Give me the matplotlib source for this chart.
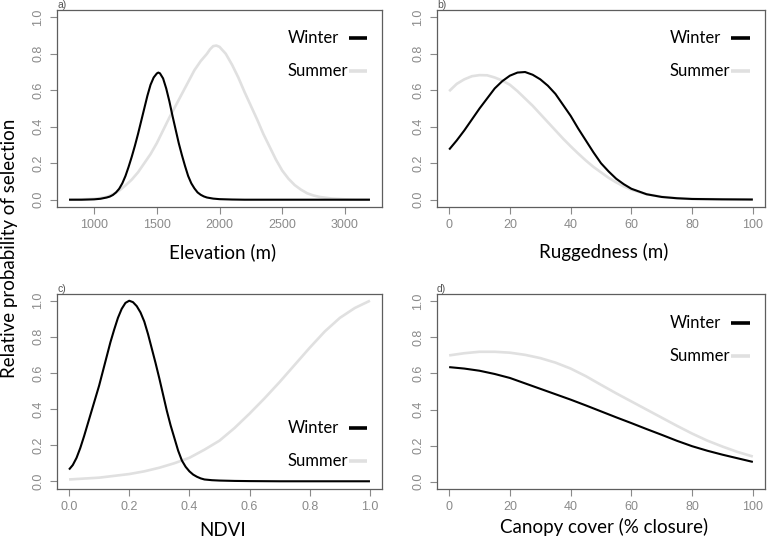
import matplotlib
matplotlib.use("Agg")
import matplotlib.pyplot as plt

# ---------------- data ----------------
elev_x = [800, 900, 1000, 1050, 1100, 1125, 1150, 1175, 1200, 1225, 1250, 1275, 1300, 1325, 1350,
          1375, 1400, 1425, 1450, 1475, 1500, 1512, 1525, 1550, 1575, 1600, 1625, 1650, 1675, 1700,
          1725, 1750, 1775, 1800, 1825, 1850, 1875, 1900, 1950, 2000, 2100, 2200, 2500, 2800, 3200]
elev_winter = [0.0, 0.0, 0.002, 0.005, 0.012, 0.017, 0.026, 0.04, 0.06, 0.09, 0.13, 0.18, 0.235,
               0.295, 0.36, 0.43, 0.50, 0.57, 0.63, 0.67, 0.692, 0.697, 0.693, 0.665, 0.61, 0.54,
               0.46, 0.385, 0.31, 0.245, 0.185, 0.13, 0.09, 0.062, 0.04, 0.027, 0.018, 0.012,
               0.006, 0.003, 0.001, 0.0, 0.0, 0.0, 0.0]
elev_x_s = [800, 900, 1000, 1050, 1100, 1150, 1200, 1250, 1300, 1350, 1400, 1450, 1500, 1550,
            1600, 1650, 1700, 1750, 1800, 1850, 1900, 1925, 1950, 1975, 2000, 2050, 2100, 2150,
            2200, 2250, 2300, 2350, 2400, 2450, 2500, 2550, 2600, 2650, 2700, 2750, 2800, 2900,
            3000, 3100, 3200]
elev_summer = [0.0, 0.002, 0.005, 0.009, 0.015, 0.03, 0.05, 0.078, 0.11, 0.15, 0.20, 0.25, 0.31,
               0.38, 0.45, 0.515, 0.58, 0.645, 0.71, 0.76, 0.80, 0.825, 0.842, 0.845, 0.838, 0.80,
               0.74, 0.67, 0.59, 0.515, 0.44, 0.36, 0.29, 0.22, 0.16, 0.115, 0.08, 0.055, 0.035,
               0.023, 0.015, 0.006, 0.002, 0.0, 0.0]

rug_x = [0, 2.5, 5, 7.5, 10, 12.5, 15, 17.5, 20, 22.5, 25, 27.5, 30, 32.5, 35, 37.5, 40, 42.5, 45,
         47.5, 50, 52.5, 55, 57.5, 60, 65, 70, 75, 80, 90, 100]
rug_winter = [0.275, 0.325, 0.38, 0.44, 0.50, 0.555, 0.61, 0.65, 0.68, 0.697, 0.70, 0.685, 0.66,
              0.625, 0.58, 0.52, 0.46, 0.39, 0.325, 0.26, 0.20, 0.155, 0.115, 0.085, 0.06, 0.03,
              0.015, 0.008, 0.004, 0.002, 0.001]
rug_summer = [0.595, 0.635, 0.66, 0.677, 0.683, 0.682, 0.67, 0.653, 0.63, 0.595, 0.555, 0.515, 0.47,
              0.425, 0.38, 0.335, 0.293, 0.253, 0.215, 0.18, 0.15, 0.12, 0.095, 0.073, 0.055, 0.03,
              0.016, 0.008, 0.004, 0.002, 0.001]

ndvi_x_w = [0.0, 0.0125, 0.025, 0.0375, 0.05, 0.0625, 0.075, 0.0875, 0.1, 0.1125, 0.125, 0.1375,
            0.15, 0.1625, 0.175, 0.1875, 0.2, 0.2125, 0.225, 0.2375, 0.25, 0.2625, 0.275, 0.2875,
            0.3, 0.3125, 0.325, 0.3375, 0.35, 0.3625, 0.375, 0.3875, 0.4, 0.4125, 0.425, 0.4375,
            0.45, 0.475, 0.5, 0.55, 0.6, 0.7, 1.0]
ndvi_winter = [0.065, 0.09, 0.13, 0.185, 0.25, 0.32, 0.39, 0.46, 0.53, 0.61, 0.69, 0.77, 0.84,
               0.905, 0.955, 0.988, 1.0, 0.992, 0.97, 0.935, 0.885, 0.815, 0.735, 0.655, 0.57,
               0.48, 0.39, 0.31, 0.24, 0.17, 0.115, 0.08, 0.055, 0.037, 0.025, 0.016, 0.01,
               0.006, 0.004, 0.002, 0.001, 0.0, 0.0]
ndvi_x_s = [0.0, 0.05, 0.1, 0.15, 0.2, 0.25, 0.3, 0.35, 0.4, 0.45, 0.5, 0.55, 0.6, 0.65, 0.7, 0.75,
            0.8, 0.85, 0.9, 0.95, 1.0]
ndvi_summer = [0.01, 0.015, 0.02, 0.03, 0.04, 0.055, 0.075, 0.10, 0.13, 0.175, 0.225, 0.295, 0.375,
               0.46, 0.55, 0.645, 0.74, 0.83, 0.905, 0.96, 1.0]

can_x = [0, 5, 10, 15, 20, 25, 30, 35, 40, 45, 50, 55, 60, 65, 70, 75, 80, 85, 90, 95, 100]
can_winter = [0.635, 0.627, 0.615, 0.597, 0.575, 0.545, 0.515, 0.485, 0.455, 0.423, 0.39, 0.357,
              0.325, 0.292, 0.26, 0.227, 0.197, 0.172, 0.15, 0.13, 0.11]
can_summer = [0.70, 0.712, 0.72, 0.72, 0.715, 0.703, 0.685, 0.66, 0.627, 0.585, 0.537, 0.49, 0.445,
              0.40, 0.355, 0.31, 0.267, 0.228, 0.195, 0.165, 0.14]

panel_labels = ["a)", "b)", "c)", "d)"]
x_labels = ["Elevation (m)", "Ruggedness (m)", "NDVI", "Canopy cover (% closure)"]
y_label = "Relative probability of selection"
series_names = ["Winter", "Summer"]
y_ticks = [0.0, 0.2, 0.4, 0.6, 0.8, 1.0]
y_ticklabels = ["0.0", "0.2", "0.4", "0.6", "0.8", "1.0"]
x_ticks = [[1000, 1500, 2000, 2500, 3000], [0, 20, 40, 60, 80, 100],
           [0.0, 0.2, 0.4, 0.6, 0.8, 1.0], [0, 20, 40, 60, 80, 100]]
x_ticklabels = [["1000", "1500", "2000", "2500", "3000"], ["0", "20", "40", "60", "80", "100"],
                ["0.0", "0.2", "0.4", "0.6", "0.8", "1.0"], ["0", "20", "40", "60", "80", "100"]]
x_ranges = [(800, 3200), (0, 100), (0.0, 1.0), (0, 100)]

# ---------------- style ----------------
W, H = 771, 541
fig = plt.figure(figsize=(W / 100, H / 100), dpi=100)
frame_col = "#5e5e5e"
tick_col = "#8a8a8a"
winter_col = "#000000"
summer_col = "#e0e0e0"
label_font = "Lato"
tick_font = "Liberation Sans"

def px_axes(l, t, r, b):
    return [l / W, (H - b) / H, (r - l) / W, (b - t) / H]

rects = [px_axes(57, 10, 382, 207), px_axes(437, 10, 765, 207),
         px_axes(57, 293.5, 382, 488.5), px_axes(437, 294, 765, 489)]
legend_y = [(0.858, 0.69), (0.86, 0.69), (0.308, 0.14), (0.85, 0.682)]
xlabel_y = [252, 252, 531, 527]

data = [(elev_x, elev_winter, elev_x_s, elev_summer),
        (rug_x, rug_winter, rug_x, rug_summer),
        (ndvi_x_w, ndvi_winter, ndvi_x_s, ndvi_summer),
        (can_x, can_winter, can_x, can_summer)]

for i in range(4):
    ax = fig.add_axes(rects[i])
    xw, yw, xs, ys = data[i]
    ax.plot(xs, ys, color=summer_col, lw=1.9, solid_capstyle="butt")
    ax.plot(xw, yw, color=winter_col, lw=1.5, solid_capstyle="butt")
    lo, hi = x_ranges[i]
    pad = 0.04 * (hi - lo)
    ax.set_xlim(lo - pad, hi + pad)
    ax.set_ylim(-0.04, 1.04)
    ax.set_xticks(x_ticks[i])
    ax.set_xticklabels(x_ticklabels[i], family=tick_font, fontsize=9, color=tick_col)
    ax.set_yticks(y_ticks)
    ax.set_yticklabels(y_ticklabels, family=tick_font, fontsize=9, color=tick_col,
                       rotation=90, va="center")
    ax.tick_params(axis="both", direction="out", length=5, width=0.8, color=tick_col, pad=4)
    for s in ax.spines.values():
        s.set_color(frame_col)
        s.set_linewidth(0.9)
    # panel letter
    ax.text(0.0, 1.0, panel_labels[i], transform=ax.transAxes, ha="left", va="bottom",
            fontsize=7.5, color="#555555", family=tick_font)
    # legend
    yW, yS = legend_y[i]
    ax.text(0.71, yW, series_names[0], transform=ax.transAxes, ha="left", va="center",
            fontsize=12, family=label_font, color="black")
    ax.text(0.71, yS, series_names[1], transform=ax.transAxes, ha="left", va="center",
            fontsize=12, family=label_font, color="black")
    ax.plot([0.897, 0.955], [yW, yW], transform=ax.transAxes, color=winter_col, lw=2.6,
            solid_capstyle="butt")
    ax.plot([0.897, 0.955], [yS, yS], transform=ax.transAxes, color=summer_col, lw=2.6,
            solid_capstyle="butt")
    # x label
    cx = rects[i][0] + rects[i][2] / 2
    fig.text(cx + 3 / W, 1 - xlabel_y[i] / H, x_labels[i], ha="center", va="center",
             fontsize=13.5, family=label_font, color="black")

fig.text(10 / W, 1 - 248 / H, y_label, rotation=90, ha="center", va="center",
         fontsize=13.5, family=label_font, color="black")

fig.savefig("out.png", dpi=100)
